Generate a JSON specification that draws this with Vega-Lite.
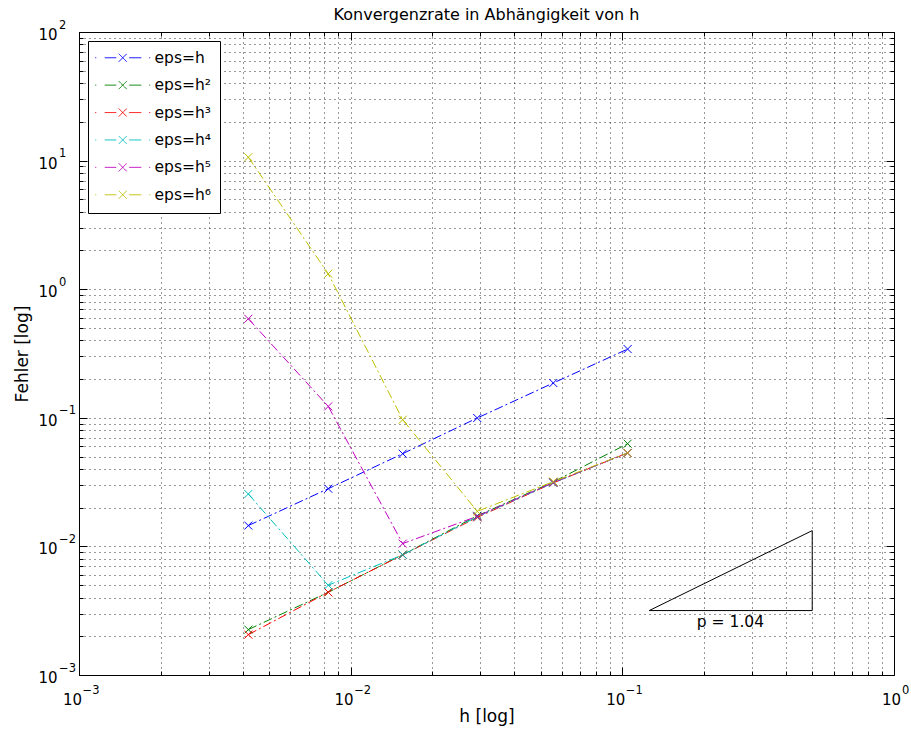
{
  "$schema": "https://vega.github.io/schema/vega-lite/v6.json",
  "width": 815,
  "height": 643,
  "autosize": "none",
  "padding": {"left": 79, "top": 32, "right": 17, "bottom": 59},
  "background": "white",
  "title": {"text": "Konvergenzrate in Abhängigkeit von h", "font": "DejaVu Sans", "fontSize": 16, "fontWeight": "normal", "color": "black", "anchor": "middle", "offset": -4},
  "config": {
    "font": "DejaVu Sans",
    "view": {"stroke": "black", "strokeWidth": 1},
    "axis": {"domain": false, "tickColor": "black", "labelColor": "black", "titleColor": "black", "labelFont": "DejaVu Sans", "titleFont": "DejaVu Sans", "titleFontWeight": "normal", "gridColor": "#000", "gridOpacity": 0.8, "gridDash": [1, 4], "gridWidth": 1}
  },
  "datasets": {
    "series": [
      {"s": "eps=h", "h": 0.0042, "e": 0.01452},
      {"s": "eps=h", "h": 0.00827, "e": 0.0281},
      {"s": "eps=h", "h": 0.01554, "e": 0.0526},
      {"s": "eps=h", "h": 0.02924, "e": 0.0996},
      {"s": "eps=h", "h": 0.0557, "e": 0.1864},
      {"s": "eps=h", "h": 0.1046, "e": 0.3424},
      {"s": "eps=h²", "h": 0.0042, "e": 0.002255},
      {"s": "eps=h²", "h": 0.00827, "e": 0.0044},
      {"s": "eps=h²", "h": 0.01554, "e": 0.00863},
      {"s": "eps=h²", "h": 0.02924, "e": 0.0173},
      {"s": "eps=h²", "h": 0.0557, "e": 0.0317},
      {"s": "eps=h²", "h": 0.1046, "e": 0.0629},
      {"s": "eps=h³", "h": 0.0042, "e": 0.00206},
      {"s": "eps=h³", "h": 0.00827, "e": 0.0044},
      {"s": "eps=h³", "h": 0.01554, "e": 0.0086},
      {"s": "eps=h³", "h": 0.02924, "e": 0.0168},
      {"s": "eps=h³", "h": 0.0557, "e": 0.0312},
      {"s": "eps=h³", "h": 0.1046, "e": 0.0533},
      {"s": "eps=h⁴", "h": 0.0042, "e": 0.02555},
      {"s": "eps=h⁴", "h": 0.00827, "e": 0.00499},
      {"s": "eps=h⁴", "h": 0.01554, "e": 0.0086},
      {"s": "eps=h⁴", "h": 0.02924, "e": 0.017},
      {"s": "eps=h⁴", "h": 0.0557, "e": 0.0312},
      {"s": "eps=h⁴", "h": 0.1046, "e": 0.0533},
      {"s": "eps=h⁵", "h": 0.0042, "e": 0.589},
      {"s": "eps=h⁵", "h": 0.00827, "e": 0.1227},
      {"s": "eps=h⁵", "h": 0.01554, "e": 0.01051},
      {"s": "eps=h⁵", "h": 0.02924, "e": 0.01714},
      {"s": "eps=h⁵", "h": 0.0557, "e": 0.0314},
      {"s": "eps=h⁵", "h": 0.1046, "e": 0.0533},
      {"s": "eps=h⁶", "h": 0.0042, "e": 10.63},
      {"s": "eps=h⁶", "h": 0.00827, "e": 1.318},
      {"s": "eps=h⁶", "h": 0.01554, "e": 0.0966},
      {"s": "eps=h⁶", "h": 0.02924, "e": 0.01874},
      {"s": "eps=h⁶", "h": 0.0557, "e": 0.0319},
      {"s": "eps=h⁶", "h": 0.1046, "e": 0.0533}
    ],
    "tri": [
      {"o": 1, "h": 0.1256, "e": 0.00317},
      {"o": 2, "h": 0.5, "e": 0.00317},
      {"o": 3, "h": 0.5, "e": 0.01327},
      {"o": 4, "h": 0.1256, "e": 0.00317}
    ],
    "ann": [
      {"h": 0.25, "e": 0.0026, "t": "p = 1.04"}
    ]
  },
  "layer": [
    {
      "data": {"name": "series"},
      "mark": {"type": "line", "strokeWidth": 1, "strokeDash": [9, 3, 2, 3]},
      "encoding": {
        "x": {"field": "h", "type": "quantitative", "scale": {"type": "log", "domain": [0.001, 1], "nice": false},
          "axis": {"orient": "bottom", "values": [0.001, 0.01, 0.1, 1], "labelExpr": "'10'", "labelFontSize": 15, "labelAlign": "right", "labelOffset": {"condition": {"test": "datum.value > 0.5", "value": 6.5}, "value": 2.5}, "tickSize": -8, "labelPadding": 25, "labelFlush": false, "grid": true, "title": "h [log]", "titleFontSize": 17, "titlePadding": 1}},
        "y": {"field": "e", "type": "quantitative", "scale": {"type": "log", "domain": [0.001, 100], "nice": false},
          "axis": {"orient": "left", "values": [0.001, 0.01, 0.1, 1, 10, 100], "labelExpr": "'10'", "labelFontSize": 15, "labelBaseline": "middle", "labelOffset": 2.5, "tickSize": -8, "labelPadding": 30, "labelFlush": false, "grid": true, "title": "Fehler [log]", "titleFontSize": 17, "titlePadding": 6}},
        "color": {"field": "s", "type": "nominal",
          "scale": {"domain": ["eps=h", "eps=h²", "eps=h³", "eps=h⁴", "eps=h⁵", "eps=h⁶"], "range": ["#0000ff", "#008000", "#ff0000", "#00bfbf", "#bf00bf", "#bfbf00"]},
          "legend": {"title": null, "orient": "top-left", "offset": 9, "padding": 9, "fillColor": "white", "strokeColor": "black",
            "labelFontSize": 15.5, "labelFont": "DejaVu Sans", "labelColor": "black", "rowPadding": 10.4,
            "symbolType": "M-5.5,0H-5.3M-3.6,0H-1.3M-0.8,-0.8L0.8,0.8M-0.8,0.8L0.8,-0.8M1.3,0H3.7M5.3,0H5.5",
            "symbolSize": 100, "symbolOffset": 18, "labelOffset": 24, "symbolStrokeWidth": 1,
            "encode": {"symbols": {"update": {"fill": {"value": "transparent"}, "strokeDash": {"value": [1, 0]}, "strokeWidth": {"value": 1}}}}}},
        "order": {"field": "h", "type": "quantitative"}
      }
    },
    {
      "data": {"name": "series"},
      "mark": {"type": "point", "shape": "M-1,-1L1,1M-1,1L1,-1", "filled": false, "size": 64, "strokeWidth": 1, "opacity": 1},
      "encoding": {
        "x": {"field": "h", "type": "quantitative", "scale": {"type": "log", "domain": [0.001, 1], "nice": false},
          "axis": {"orient": "bottom", "values": [0.002, 0.003, 0.004, 0.005, 0.006, 0.007, 0.008, 0.009, 0.02, 0.03, 0.04, 0.05, 0.06, 0.07, 0.08, 0.09, 0.2, 0.3, 0.4, 0.5, 0.6, 0.7, 0.8, 0.9], "labels": false, "tickSize": -4, "grid": true, "title": null}},
        "y": {"field": "e", "type": "quantitative", "scale": {"type": "log", "domain": [0.001, 100], "nice": false},
          "axis": {"orient": "left", "values": [0.002, 0.003, 0.004, 0.005, 0.006, 0.007, 0.008, 0.009, 0.02, 0.03, 0.04, 0.05, 0.06, 0.07, 0.08, 0.09, 0.2, 0.3, 0.4, 0.5, 0.6, 0.7, 0.8, 0.9, 2, 3, 4, 5, 6, 7, 8, 9, 20, 30, 40, 50, 60, 70, 80, 90], "labels": false, "tickSize": -4, "grid": true, "title": null}},
        "color": {"field": "s", "type": "nominal", "scale": {"domain": ["eps=h", "eps=h²", "eps=h³", "eps=h⁴", "eps=h⁵", "eps=h⁶"], "range": ["#0000ff", "#008000", "#ff0000", "#00bfbf", "#bf00bf", "#bfbf00"]}}
      }
    },
    {
      "data": {"name": "tri"},
      "mark": {"type": "line", "color": "black", "strokeWidth": 1},
      "encoding": {
        "x": {"field": "h", "type": "quantitative", "scale": {"type": "log", "domain": [0.001, 1], "nice": false},
          "axis": {"orient": "top", "values": [0.001, 0.01, 0.1, 1], "labels": false, "tickSize": -8, "grid": false, "title": null}},
        "y": {"field": "e", "type": "quantitative", "scale": {"type": "log", "domain": [0.001, 100], "nice": false},
          "axis": {"orient": "right", "values": [0.001, 0.01, 0.1, 1, 10, 100], "labels": false, "tickSize": -8, "grid": false, "title": null}},
        "order": {"field": "o", "type": "quantitative"}
      }
    },
    {
      "data": {"name": "ann"},
      "mark": {"type": "text", "font": "DejaVu Sans", "fontSize": 15.5, "color": "black", "align": "center", "baseline": "middle"},
      "encoding": {
        "x": {"field": "h", "type": "quantitative", "scale": {"type": "log", "domain": [0.001, 1], "nice": false},
          "axis": {"orient": "top", "values": [0.002, 0.003, 0.004, 0.005, 0.006, 0.007, 0.008, 0.009, 0.02, 0.03, 0.04, 0.05, 0.06, 0.07, 0.08, 0.09, 0.2, 0.3, 0.4, 0.5, 0.6, 0.7, 0.8, 0.9], "labels": false, "tickSize": -4, "grid": false, "title": null}},
        "y": {"field": "e", "type": "quantitative", "scale": {"type": "log", "domain": [0.001, 100], "nice": false},
          "axis": {"orient": "right", "values": [0.002, 0.003, 0.004, 0.005, 0.006, 0.007, 0.008, 0.009, 0.02, 0.03, 0.04, 0.05, 0.06, 0.07, 0.08, 0.09, 0.2, 0.3, 0.4, 0.5, 0.6, 0.7, 0.8, 0.9, 2, 3, 4, 5, 6, 7, 8, 9, 20, 30, 40, 50, 60, 70, 80, 90], "labels": false, "tickSize": -4, "grid": false, "title": null}},
        "text": {"field": "t"}
      }
    },
    {
      "data": {"name": "ann"},
      "mark": {"type": "point", "opacity": 0},
      "encoding": {
        "x": {"field": "h", "type": "quantitative", "scale": {"type": "log", "domain": [0.001, 1], "nice": false},
          "axis": {"orient": "bottom", "values": [0.001, 0.01, 0.1, 1], "labelExpr": "['−3','−2','−1','0'][round(log(datum.value)/LN10)+3]", "labelFontSize": 11.5, "labelAlign": "left", "labelOffset": {"condition": {"test": "datum.value > 0.5", "value": 7.5}, "value": 3}, "tickSize": -8, "tickOpacity": 0, "labelPadding": 17, "labelFlush": false, "grid": false, "title": null}},
        "y": {"field": "e", "type": "quantitative", "scale": {"type": "log", "domain": [0.001, 100], "nice": false},
          "axis": {"orient": "left", "values": [0.001, 0.01, 0.1, 1, 10, 100], "labelExpr": "['−3','−2','−1','0','1','2'][round(log(datum.value)/LN10)+3]", "labelFontSize": 11.5, "labelAlign": "left", "labelBaseline": "middle", "labelOffset": -7, "tickSize": -8, "tickOpacity": 0, "labelPadding": 28.5, "labelFlush": false, "grid": false, "title": null}}
      }
    }
  ],
  "resolve": {"axis": {"x": "independent", "y": "independent"}}
}
